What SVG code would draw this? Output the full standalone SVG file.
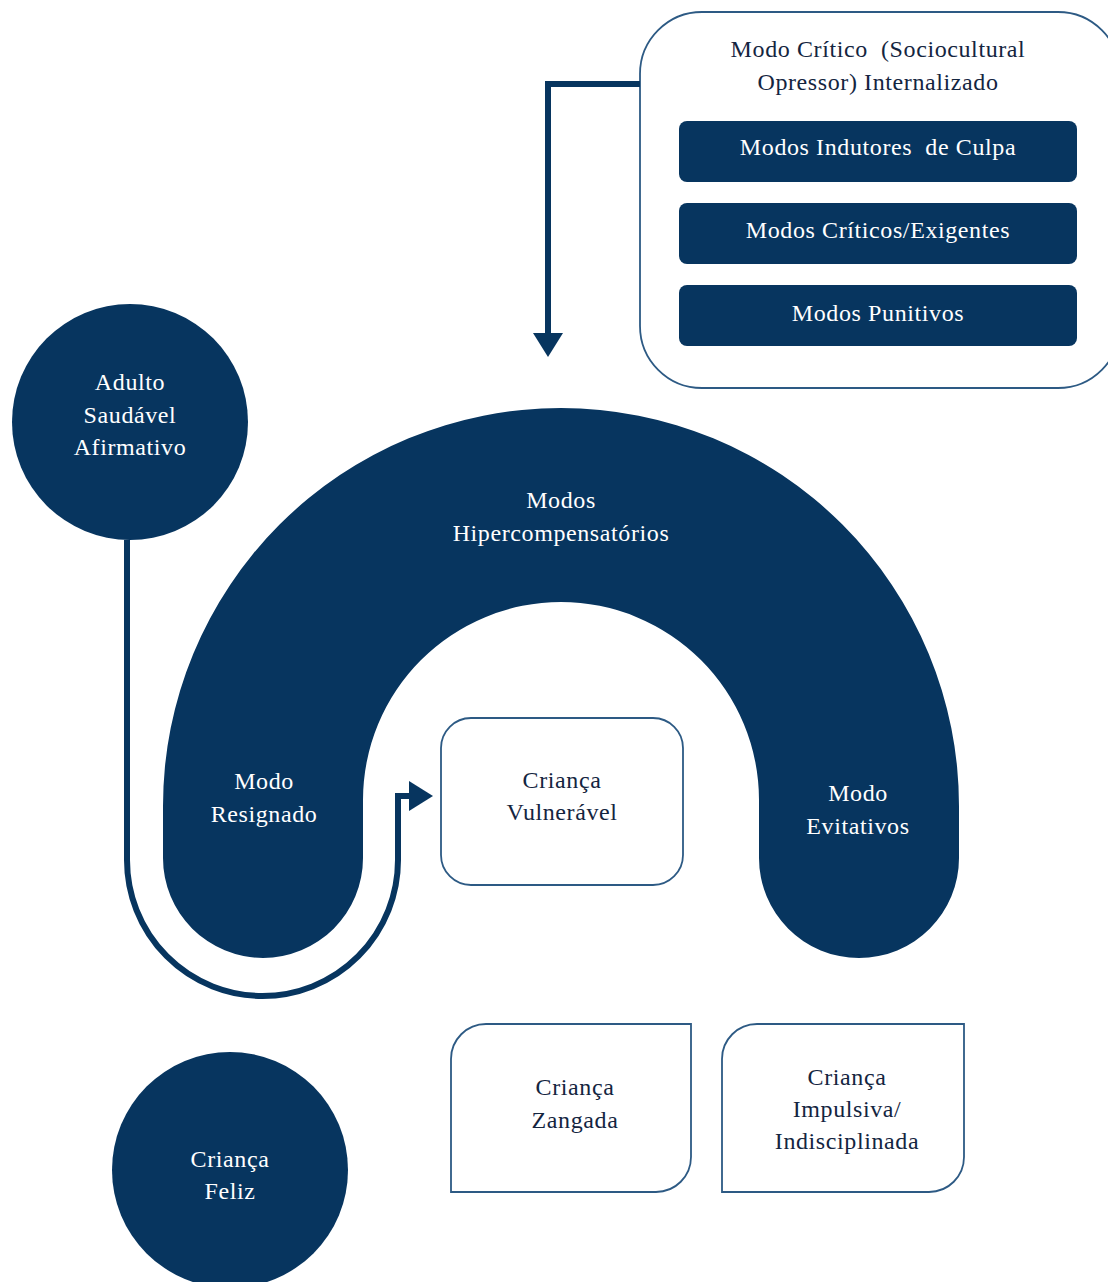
<svg xmlns="http://www.w3.org/2000/svg" width="1108" height="1282" viewBox="0 0 1108 1282">
<style>
.dark{fill:#07355f}
.box{fill:#fff;stroke:#2d5a84;stroke-width:1.8}
.wt{fill:#fff;font-family:"Liberation Serif",serif;font-size:24px;letter-spacing:0.6px;text-anchor:middle;white-space:pre}
.dt{fill:#14253f;font-family:"Liberation Serif",serif;font-size:24px;letter-spacing:0.6px;text-anchor:middle;white-space:pre}
.conn{fill:none;stroke:#07355f;stroke-width:6}
</style>
<defs>
<marker id="ah" markerWidth="4" markerHeight="5" refX="0.5" refY="2.5" orient="auto" markerUnits="strokeWidth">
<path d="M0,0 L4,2.5 L0,5 Z" fill="#07355f"/>
</marker>
</defs>
<rect width="1108" height="1282" fill="#fff"/>

<g id="critico">
<rect class="box" x="640" y="12" width="480" height="376" rx="62"/>
<text class="dt" x="878" y="57" xml:space="preserve">Modo Crítico  (Sociocultural</text>
<text class="dt" x="878" y="90">Opressor) Internalizado</text>
</g>
<g id="culpa">
<rect class="dark" x="679" y="121" width="398" height="61" rx="8"/>
<text class="wt" x="878" y="155" xml:space="preserve">Modos Indutores  de Culpa</text>
</g>
<g id="exigentes">
<rect class="dark" x="679" y="203" width="398" height="61" rx="8"/>
<text class="wt" x="878" y="238">Modos Críticos/Exigentes</text>
</g>
<g id="punitivos">
<rect class="dark" x="679" y="285" width="398" height="61" rx="8"/>
<text class="wt" x="878" y="321">Modos Punitivos</text>
</g>

<g id="arco">
<path class="dark" d="M163 806 A398 398 0 0 1 959 806 L959 858 A100 100 0 0 1 759 858 L759 800 A198 198 0 0 0 363 800 L363 858 A100 100 0 0 1 163 858 Z"/>
<text class="wt" x="561" y="508">Modos</text>
<text class="wt" x="561" y="541">Hipercompensatórios</text>
<text class="wt" x="264" y="789">Modo</text>
<text class="wt" x="264" y="822">Resignado</text>
<text class="wt" x="858" y="801">Modo</text>
<text class="wt" x="858" y="834">Evitativos</text>
</g>

<g id="adulto">
<circle class="dark" cx="130" cy="422" r="118"/>
<text class="wt" x="130" y="390">Adulto</text>
<text class="wt" x="130" y="423">Saudável</text>
<text class="wt" x="130" y="455">Afirmativo</text>
</g>

<g id="vulneravel">
<rect class="box" x="441" y="718" width="242" height="167" rx="30"/>
<text class="dt" x="562" y="788">Criança</text>
<text class="dt" x="562" y="820">Vulnerável</text>
</g>

<g id="zangada">
<path class="box" d="M486 1024 H691 V1157 A35 35 0 0 1 656 1192 H451 V1059 A35 35 0 0 1 486 1024 Z"/>
<text class="dt" x="575" y="1095">Criança</text>
<text class="dt" x="575" y="1128">Zangada</text>
</g>

<g id="impulsiva">
<path class="box" d="M757 1024 H964 V1157 A35 35 0 0 1 929 1192 H722 V1059 A35 35 0 0 1 757 1024 Z"/>
<text class="dt" x="847" y="1085">Criança</text>
<text class="dt" x="847" y="1117">Impulsiva/</text>
<text class="dt" x="847" y="1149">Indisciplinada</text>
</g>

<g id="feliz">
<circle class="dark" cx="230" cy="1170" r="118"/>
<text class="wt" x="230" y="1167">Criança</text>
<text class="wt" x="230" y="1199">Feliz</text>
</g>

<g id="connectors">
<path class="conn" d="M640 84 H548 V336" marker-end="url(#ah)"/>
<path class="conn" d="M127 540 V860 A135.5 136 0 0 0 398 860 V796 H412" marker-end="url(#ah)"/>
</g>
</svg>
